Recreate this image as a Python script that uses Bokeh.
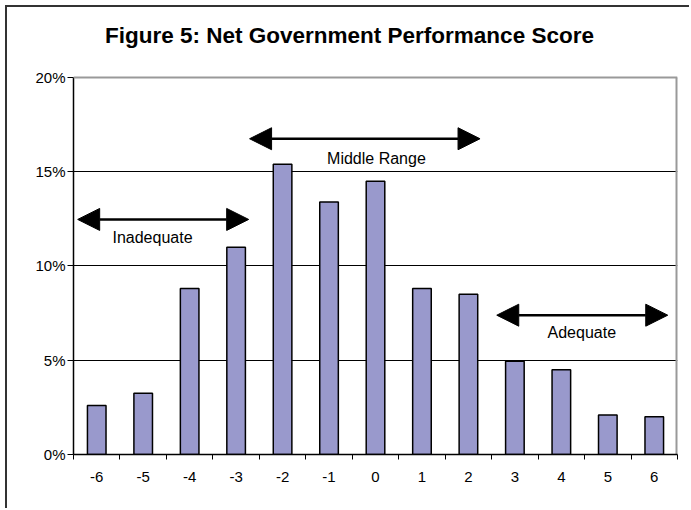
from bokeh.plotting import figure
from bokeh.models import (Range1d, FixedTicker, Arrow, NormalHead, Label, Span)
from bokeh.embed import file_html
from bokeh.resources import INLINE

# ---- data ----
scores = [-6, -5, -4, -3, -2, -1, 0, 1, 2, 3, 4, 5, 6]
shares = [2.6, 3.25, 8.8, 11.0, 15.4, 13.4, 14.5, 8.8, 8.5, 4.95, 4.5, 2.1, 2.0]
score_labels = [str(s) for s in scores]
y_ticks = [0, 5, 10, 15, 20]
y_tick_labels = ["0%", "5%", "10%", "15%", "20%"]

zone_names = ["Inadequate", "Middle Range", "Adequate"]
zone_from = [-6.41, -2.71, 2.61]
zone_to = [-2.73, 2.25, 6.29]
zone_arrow_y = [12.47, 16.75, 7.39]
zone_label_x = [-4.80, 0.02, 4.44]
zone_label_y = [11.51, 15.72, 6.47]

title_text = "Figure 5: Net Government Performance Score"
title_x, title_y = -0.56, 22.22

FONT = "Liberation Sans"
Y_MAX = y_ticks[-1]

p = figure(width=684, height=503, output_backend="svg", toolbar_location=None,
           x_range=Range1d(-6.5, 6.5), y_range=Range1d(0, 23.5),
           min_border_left=66, min_border_right=14, min_border_top=4,
           min_border_bottom=56)
p.styles = {"margin-left": "5px", "margin-top": "5px",
            "border-left": "2px solid #333333", "border-top": "2px solid #333333"}
p.background_fill_color = "white"
p.border_fill_color = "white"
p.outline_line_color = None

p.vbar(x=scores, top=shares, width=0.4, fill_color="#9999CC",
       line_color="black", line_width=1.5)

# plot-area border (top and right, grey)
p.add_layout(Span(location=Y_MAX, dimension="width", line_color="#999999", line_width=2))
p.segment(x0=[6.5], y0=[0], x1=[6.5], y1=[Y_MAX], line_color="#999999", line_width=4)

# x axis: labels at centres, ticks between categories
xa = p.xaxis[0]
xa.ticker = FixedTicker(ticks=scores, minor_ticks=[s - 0.5 for s in scores] + [6.5])
xa.major_label_overrides = {s: l for s, l in zip(scores, score_labels)}
xa.major_tick_out = 0
xa.major_tick_in = 0
xa.minor_tick_out = 5
xa.minor_tick_in = 0
xa.minor_tick_line_color = "black"
xa.axis_line_color = "black"
xa.axis_line_width = 1.5
xa.major_label_standoff = 12
xa.major_label_text_font = FONT
xa.major_label_text_font_size = "15px"
xa.major_label_text_color = "black"

ya = p.yaxis[0]
ya.bounds = (0, Y_MAX)
ya.ticker = FixedTicker(ticks=y_ticks)
ya.major_label_overrides = {t: l for t, l in zip(y_ticks, y_tick_labels)}
ya.major_tick_out = 6
ya.major_tick_in = 0
ya.minor_tick_out = 0
ya.minor_tick_in = 0
ya.major_tick_line_color = "black"
ya.axis_line_color = "black"
ya.axis_line_width = 1.5
ya.major_label_standoff = 2
ya.major_label_text_font = FONT
ya.major_label_text_font_size = "15px"
ya.major_label_text_color = "black"

p.xgrid.visible = False
p.ygrid.ticker = FixedTicker(ticks=[t for t in y_ticks if 0 < t < Y_MAX])
p.ygrid.grid_line_color = "black"
p.ygrid.grid_line_width = 1

for name, x0, x1, ya_, lx, ly in zip(zone_names, zone_from, zone_to, zone_arrow_y,
                                     zone_label_x, zone_label_y):
    p.add_layout(Arrow(x_start=x0, y_start=ya_, x_end=x1, y_end=ya_,
                       line_color="black", line_width=2.5,
                       start=NormalHead(size=22, fill_color="black", line_color="black"),
                       end=NormalHead(size=22, fill_color="black", line_color="black")))
    p.add_layout(Label(x=lx, y=ly, text=name, text_align="center",
                       text_baseline="middle", text_font=FONT,
                       text_font_size="16px", text_color="black"))

p.add_layout(Label(x=title_x, y=title_y, text=title_text, text_align="center",
                   text_baseline="alphabetic", text_font=FONT,
                   text_font_style="bold", text_font_size="22.5px",
                   text_color="black"))

open("out.html", "w").write(file_html(p, INLINE))
